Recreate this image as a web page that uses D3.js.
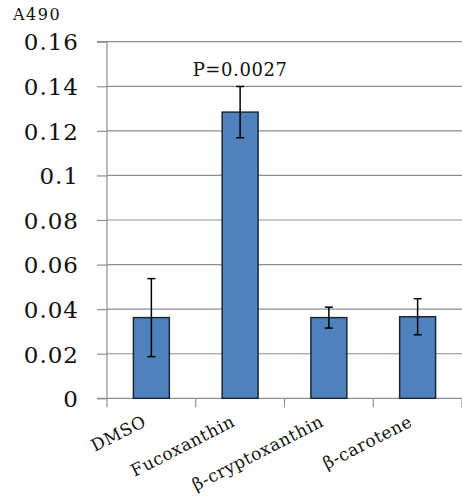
<!DOCTYPE html>
<html><head><meta charset="utf-8">
<script src="https://cdn.jsdelivr.net/npm/d3@7"></script>
<style>body{margin:0;background:#fff}svg{display:block}</style>
</head><body>
<svg id="c" width="462" height="501"></svg>
<script>
const categories = ["DMSO", "Fucoxanthin", "β-cryptoxanthin", "β-carotene"];
const means = [0.0362, 0.1284, 0.0362, 0.0366];
const errors = [0.0175, 0.0115, 0.0047, 0.0081];
const yTicks = [0, 0.02, 0.04, 0.06, 0.08, 0.1, 0.12, 0.14, 0.16];
const yTickLabels = ["0", "0.02", "0.04", "0.06", "0.08", "0.1", "0.12", "0.14", "0.16"];
const annotation = {category: "Fucoxanthin", text: "P=0.0027"};
const yLabel = "A490";

const svg = d3.select("#c");
const m = {left: 107, right: 462, top: 41.7, bottom: 398.3};
const x = d3.scaleBand().domain(categories).range([m.left, m.right]).padding(0);
const y = d3.scaleLinear().domain([0, 0.16]).range([m.bottom, m.top]);
const font = "DejaVu Serif, serif";
const gridColor = "#8e8e8e";

// gridlines
svg.append("g").selectAll("line").data(yTicks.slice(1)).join("line")
  .attr("x1", m.left).attr("x2", m.right)
  .attr("y1", d => y(d)).attr("y2", d => y(d))
  .attr("stroke", gridColor).attr("stroke-width", 1.2);

// y axis
const yAxis = d3.axisLeft(y).tickValues(yTicks).tickSize(10).tickPadding(18)
  .tickFormat((d, i) => yTickLabels[i]);
const gy = svg.append("g").attr("transform", `translate(${m.left},0)`).call(yAxis);
gy.select(".domain").attr("stroke", gridColor).attr("stroke-width", 1.2).attr("d", `M-10,${m.bottom}H0V${m.top}H-10`);
gy.selectAll(".tick line").attr("stroke", gridColor).attr("stroke-width", 1.2);
gy.selectAll(".tick text").attr("font-family", font).attr("font-size", 23)
  .attr("fill", "#111").attr("letter-spacing", 1).attr("dy", "0.36em");

// x axis baseline & ticks at band edges
svg.append("line").attr("x1", m.left).attr("x2", m.right)
  .attr("y1", m.bottom).attr("y2", m.bottom).attr("stroke", gridColor).attr("stroke-width", 1.2);
const edges = categories.map(c => x(c)).concat([m.right]);
svg.append("g").selectAll("line").data(edges).join("line")
  .attr("x1", d => d).attr("x2", d => d)
  .attr("y1", m.bottom).attr("y2", m.bottom + 9)
  .attr("stroke", gridColor).attr("stroke-width", 1.2);

// bars
const bw = x.bandwidth() * 0.405;
svg.append("g").selectAll("rect").data(categories).join("rect")
  .attr("x", c => x(c) + x.bandwidth() / 2 - bw / 2)
  .attr("width", bw)
  .attr("y", (c, i) => y(means[i]))
  .attr("height", (c, i) => y(0) - y(means[i]))
  .attr("fill", "#4f81bd").attr("stroke", "#1c2733").attr("stroke-width", 1.5);

// error bars
const eg = svg.append("g").attr("stroke", "#000").attr("stroke-width", 1.5);
categories.forEach((c, i) => {
  const cx = x(c) + x.bandwidth() / 2;
  const hi = y(means[i] + errors[i]), lo = y(means[i] - errors[i]);
  eg.append("line").attr("x1", cx).attr("x2", cx).attr("y1", hi).attr("y2", lo);
  eg.append("line").attr("x1", cx - 4).attr("x2", cx + 4).attr("y1", hi).attr("y2", hi);
  eg.append("line").attr("x1", cx - 4).attr("x2", cx + 4).attr("y1", lo).attr("y2", lo);
});

// annotation
svg.append("text")
  .attr("x", x(annotation.category) + x.bandwidth() / 2)
  .attr("y", 76)
  .attr("text-anchor", "middle")
  .attr("font-family", font).attr("font-size", 18).attr("letter-spacing", 0.6)
  .attr("fill", "#111").text(annotation.text);

// y label
svg.append("text").attr("x", 13).attr("y", 20)
  .attr("font-family", font).attr("font-size", 16).attr("letter-spacing", 1.5)
  .attr("fill", "#111").text(yLabel);

// x labels
svg.append("g").selectAll("text").data(categories).join("text")
  .attr("transform", c => `translate(${x(c) + x.bandwidth() / 2 - 4},${m.bottom + 27}) rotate(-27)`)
  .attr("text-anchor", "end")
  .attr("font-family", font).attr("font-size", 17).attr("letter-spacing", 0.6)
  .attr("fill", "#111").text(c => c);
</script>
</body></html>
